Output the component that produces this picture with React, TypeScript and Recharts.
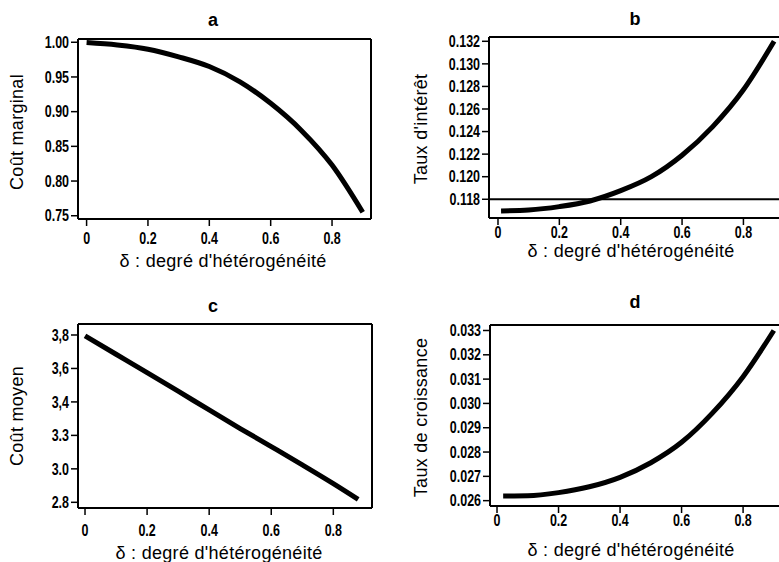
import { LineChart, Line, XAxis, YAxis, ReferenceLine } from 'recharts';

// δ values and curves
const deltaA = [0, 0.1, 0.2, 0.3, 0.4, 0.5, 0.6, 0.7, 0.8, 0.9];
const coutMarginal = [0.9995, 0.996, 0.99, 0.979, 0.965, 0.943, 0.912, 0.873, 0.823, 0.755];

const deltaB = [0.01, 0.1, 0.2, 0.3, 0.4, 0.5, 0.6, 0.7, 0.8, 0.9];
const tauxInteret = [0.11697, 0.11705, 0.11735, 0.11785, 0.11876, 0.12, 0.1219, 0.12444, 0.1277, 0.132];
const tauxReference = 0.118;

const deltaC = [0, 0.1, 0.2, 0.3, 0.4, 0.5, 0.6, 0.7, 0.8, 0.88];
const coutMoyen = [3.795, 3.685, 3.575, 3.464, 3.352, 3.241, 3.133, 3.024, 2.912, 2.818];

const deltaD = [0.02, 0.1, 0.2, 0.3, 0.4, 0.5, 0.6, 0.7, 0.8, 0.9];
const tauxCroissance = [0.02619, 0.0262, 0.02633, 0.02657, 0.02696, 0.02756, 0.0284, 0.0296, 0.0311, 0.033];

const xTicks = [0, 0.2, 0.4, 0.6, 0.8];
const xTickLabels = ['0', '0.2', '0.4', '0.6', '0.8'];

const yTicksA = [0.75, 0.8, 0.85, 0.9, 0.95, 1.0];
const yLabelsA = ['0.75', '0.80', '0.85', '0.90', '0.95', '1.00'];
const yTicksB = [0.118, 0.12, 0.122, 0.124, 0.126, 0.128, 0.13, 0.132];
const yLabelsB = ['0.118', '0.120', '0.122', '0.124', '0.126', '0.128', '0.130', '0.132'];
const yTicksC = [2.8, 3.0, 3.2, 3.4, 3.6, 3.8];
const yLabelsC = ['2.8', '3.0', '3.3', '3,4', '3,6', '3,8'];
const yTicksD = [0.026, 0.027, 0.028, 0.029, 0.03, 0.031, 0.032, 0.033];
const yLabelsD = ['0.026', '0.027', '0.028', '0.029', '0.030', '0.031', '0.032', '0.033'];

const xTitle = "δ : degré d'hétérogénéité";

const toRows = (xs: number[], ys: number[]) => xs.map((x, i) => ({ x, y: ys[i] }));

const tickStyle = {
  fill: '#000',
  fontSize: 16,
  fontWeight: 'bold',
  fontFamily: '"Liberation Sans", Arial, sans-serif',
};

// condensed tick labels, like the narrow Helvetica of the scan
const makeTick = (ticks: number[], labels: string[], vertical: boolean) => (props: any) => {
  const { x, y, payload } = props;
  const i = ticks.indexOf(payload.value);
  const label = i >= 0 ? labels[i] : String(payload.value);
  return (
    <g transform={`translate(${x},${y})`}>
      <text
        transform="scale(0.78,1)"
        textAnchor={vertical ? 'end' : 'middle'}
        dy={vertical ? '0.355em' : '0.71em'}
        style={tickStyle}
      >
        {label}
      </text>
    </g>
  );
};

interface PanelProps {
  left: number;
  top: number;
  width: number;
  height: number;
  xDomain: [number, number];
  yDomain: [number, number];
  yTicks: number[];
  yLabels: string[];
  rows: { x: number; y: number }[];
  xTickMargin: number;
  refY?: number;
}

const Panel = ({ left, top, width, height, xDomain, yDomain, yTicks, yLabels, rows, xTickMargin, refY }: PanelProps) => (
  <div style={{ position: 'absolute', left: left - 80, top: top - 20 }}>
    <LineChart
      width={width + 90}
      height={height + 60}
      data={rows}
      margin={{ top: 20, right: 10, bottom: 0, left: 0 }}
    >
      <XAxis
        type="number"
        dataKey="x"
        domain={xDomain}
        ticks={xTicks}
        interval={0}
        allowDataOverflow
        axisLine={{ stroke: '#000', strokeWidth: 2 }}
        tickLine={{ stroke: '#000', strokeWidth: 1.5 }}
        tickSize={7}
        tickMargin={xTickMargin}
        tick={makeTick(xTicks, xTickLabels, false)}
        height={40}
      />
      <YAxis
        type="number"
        domain={yDomain}
        ticks={yTicks}
        interval={0}
        allowDataOverflow
        axisLine={{ stroke: '#000', strokeWidth: 2 }}
        tickLine={{ stroke: '#000', strokeWidth: 1.5 }}
        tickSize={7}
        tickMargin={2}
        tick={makeTick(yTicks, yLabels, true)}
        width={80}
      />
      <ReferenceLine y={yDomain[1]} stroke="#000" strokeWidth={2} />
      <ReferenceLine x={xDomain[1]} stroke="#000" strokeWidth={2} />
      {refY !== undefined && <ReferenceLine y={refY} stroke="#000" strokeWidth={2} />}
      <Line
        type="monotone"
        dataKey="y"
        stroke="#000"
        strokeWidth={5}
        dot={false}
        isAnimationActive={false}
      />
    </LineChart>
  </div>
);

const titleFont = { fontFamily: '"Liberation Sans", Arial, sans-serif', fontSize: 18, letterSpacing: 0.3, fill: '#000' };
const letterFont = { fontFamily: '"Liberation Sans", Arial, sans-serif', fontSize: 18, fontWeight: 'bold', fill: '#000' };

export default function App() {
  return (
    <div style={{ position: 'absolute', left: 0, top: 0, width: 779, height: 562, overflow: 'hidden', background: '#fff' }}>
      <Panel
        left={78} top={39} width={293} height={180}
        xDomain={[-0.028, 0.927]} yDomain={[0.7453, 1.0047]}
        yTicks={yTicksA} yLabels={yLabelsA}
        rows={toRows(deltaA, coutMarginal)} xTickMargin={7}
      />
      <Panel
        left={489} top={37} width={294} height={181}
        xDomain={[-0.0293, 0.929]} yDomain={[0.11634, 0.13238]}
        yTicks={yTicksB} yLabels={yLabelsB}
        rows={toRows(deltaB, tauxInteret)} xTickMargin={2}
        refY={tauxReference}
      />
      <Panel
        left={78} top={324} width={294} height={184}
        xDomain={[-0.0226, 0.9246]} yDomain={[2.766, 3.8657]}
        yTicks={yTicksC} yLabels={yLabelsC}
        rows={toRows(deltaC, coutMoyen)} xTickMargin={10}
      />
      <Panel
        left={490} top={325} width={294} height={181}
        xDomain={[-0.0228, 0.933]} yDomain={[0.02578, 0.033226]}
        yTicks={yTicksD} yLabels={yLabelsD}
        rows={toRows(deltaD, tauxCroissance)} xTickMargin={2}
      />
      <svg width={779} height={562} style={{ position: 'absolute', left: 0, top: 0, pointerEvents: 'none' }}>
        <text x={213} y={25.5} textAnchor="middle" style={letterFont}>a</text>
        <text x={635} y={25} textAnchor="middle" style={letterFont}>b</text>
        <text x={213} y={311.5} textAnchor="middle" style={letterFont}>c</text>
        <text x={635} y={308} textAnchor="middle" style={letterFont}>d</text>

        <text x={223} y={266.5} textAnchor="middle" style={titleFont}>{xTitle}</text>
        <text x={631} y={257} textAnchor="middle" style={titleFont}>{xTitle}</text>
        <text x={219} y={559} textAnchor="middle" style={titleFont}>{xTitle}</text>
        <text x={631} y={556} textAnchor="middle" style={titleFont}>{xTitle}</text>

        <text transform="translate(23,132) rotate(-90)" textAnchor="middle" style={titleFont}>Coût marginal</text>
        <text transform="translate(427,129) rotate(-90)" textAnchor="middle" style={titleFont}>Taux d'intérêt</text>
        <text transform="translate(23,416) rotate(-90)" textAnchor="middle" style={titleFont}>Coût moyen</text>
        <text transform="translate(427,417.5) rotate(-90)" textAnchor="middle" style={titleFont}>Taux de croissance</text>
      </svg>
    </div>
  );
}
